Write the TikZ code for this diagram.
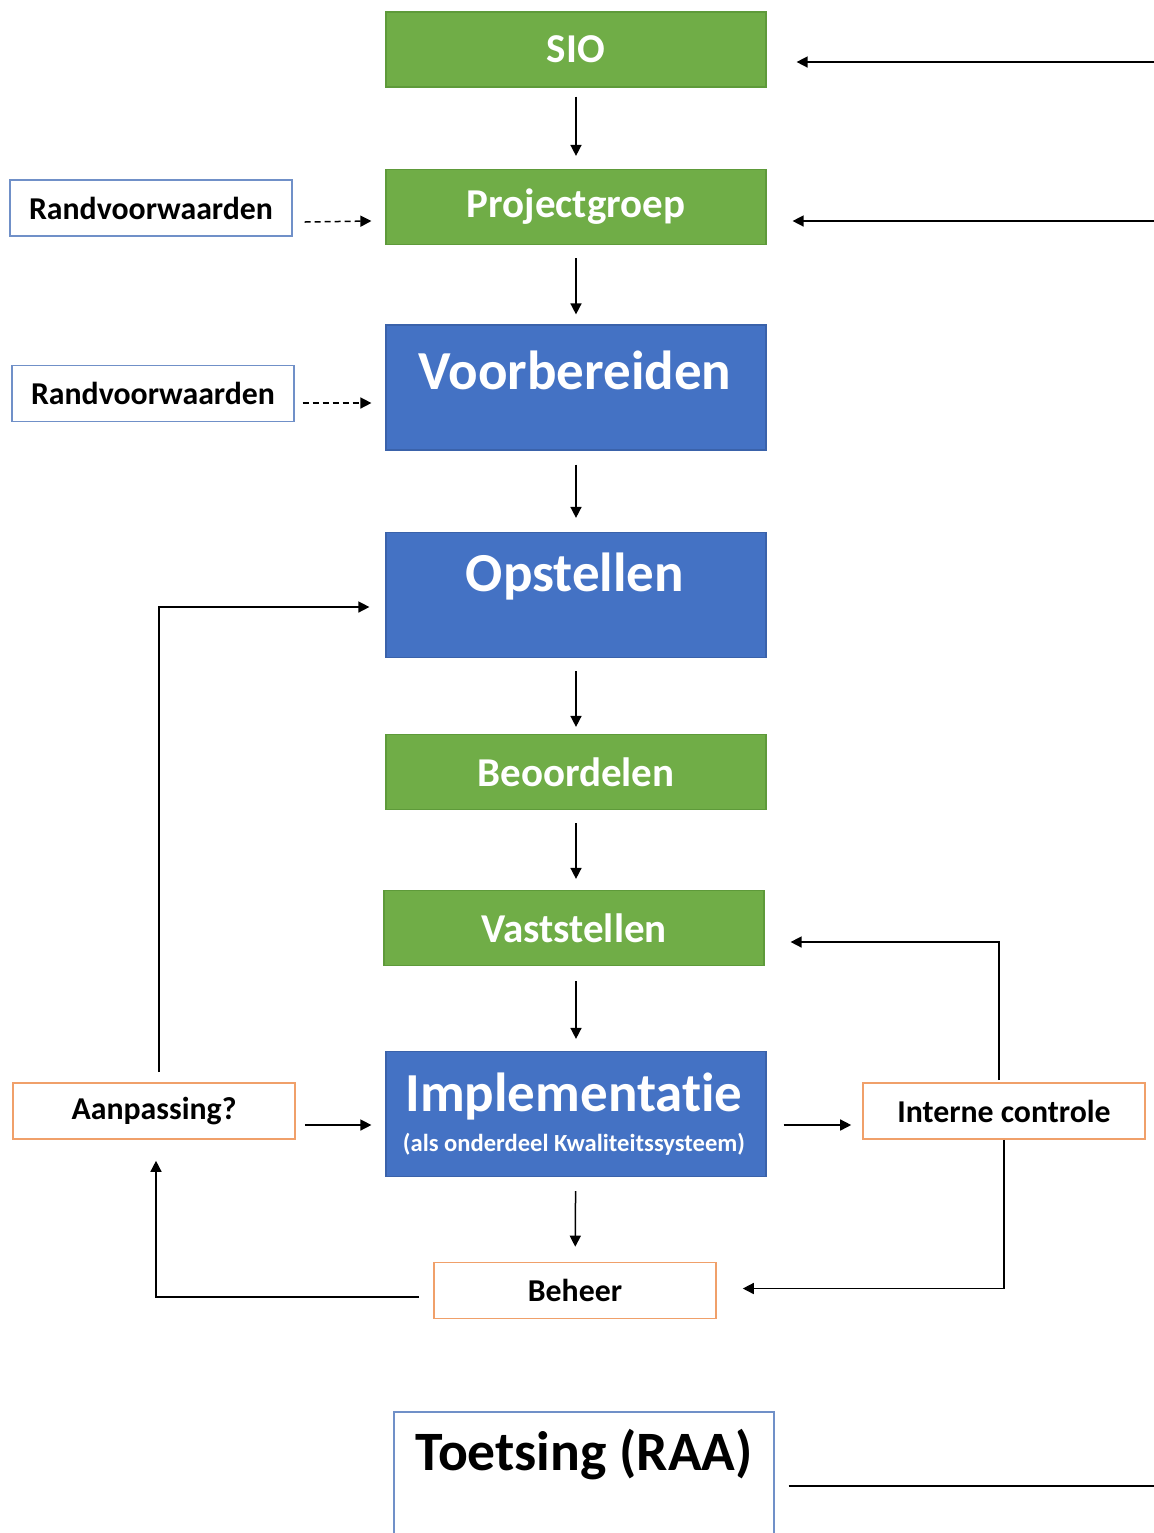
\documentclass[tikz,border=0pt]{standalone}
\usepackage{fontspec}
\setmainfont[Ligatures=NoCommon]{Carlito}
\usetikzlibrary{arrows.meta,calc}
\definecolor{cgreen}{HTML}{70AD47}
\definecolor{cgreenb}{HTML}{5E9A3A}
\definecolor{cblue}{HTML}{4472C4}
\definecolor{cblueb}{HTML}{3A62AA}
\definecolor{corange}{HTML}{F0A06A}
\definecolor{coutblue}{HTML}{7090C8}
\tikzset{
  greenbox/.style={draw=cgreenb, line width=0.6pt, fill=cgreen, minimum width=190pt, minimum height=37.5pt, inner sep=0pt, text=white, font=\bfseries\fontsize{20.5}{23}\selectfont},
  bluebox/.style={draw=cblueb, line width=0.6pt, fill=cblue, minimum width=190pt, minimum height=62.5pt, inner sep=0pt},
  bigwhite/.style={text=white, inner sep=0pt, font=\bfseries\fontsize{27.5}{30}\selectfont},
  subwhite/.style={text=white, inner sep=0pt, font=\bfseries\fontsize{12.3}{14}\selectfont},
  rvbox/.style={draw=coutblue, line width=0.7pt, fill=white, minimum width=141pt, minimum height=28pt, inner sep=0pt, font=\bfseries\fontsize{15.9}{18}\selectfont},
  orbox/.style={draw=corange, line width=0.8pt, fill=white, minimum width=141pt, minimum height=28pt, inner sep=0pt, font=\bfseries\fontsize{15.9}{18}\selectfont},
  arr/.style={line width=0.75pt, -{Triangle[length=5.5pt,width=5.5pt]}},
  darr/.style={arr, dash pattern=on 3pt off 2pt},
  vgap/.style={shorten <=7pt, shorten >=7pt},
}
\begin{document}
\begin{tikzpicture}[x=0.5pt,y=-0.5pt]
\useasboundingbox (0,0) rectangle (1154,1533);
\clip (0,0) rectangle (1154,1533);
\fill[white] (0,0) rectangle (1154,1533);

% main column
\node[greenbox] (sio) at (576,49.5) {SIO};
\node[greenbox] (proj) at (576,207) {Projectgroep};
\node[bluebox] (voor) at (576,387.5) {};
\node[bigwhite] (voortxt) at (575,370) {Voorbereiden};
\node[bluebox] (ops) at (576,595) {};
\node[bigwhite] (opstxt) at (575,577) {Opstellen};
\node[greenbox] (beo) at (576,772) {Beoordelen};
\node[greenbox] (vast) at (574,928) {Vaststellen};
\node[bluebox] (impl) at (576,1114) {};
\node[bigwhite] (impltxt) at (574,1097) {Implementatie};
\node[subwhite] (implsub) at (574,1144) {(als onderdeel Kwaliteitssysteem)};
\node[orbox] (beh) at (575,1290.5) {Beheer};

% side boxes
\node[rvbox] (rv1) at (151,208) {Randvoorwaarden};
\node[rvbox] (rv2) at (153,393.5) {Randvoorwaarden};
\node[orbox] (aan) at (154,1111) {Aanpassing?};
\node[orbox] (ic) at (1004,1111) {Interne controle};

% Toetsing
\node[draw=coutblue, line width=0.7pt, fill=white, minimum width=190pt, minimum height=66.5pt, inner sep=0pt] (toets) at (584,1478.5) {};
\node[inner sep=0pt, font=\bfseries\fontsize{27.8}{31}\selectfont] (toetstxt) at (584,1455) {Toetsing (RAA)};

% free ends at right margin
\coordinate (r1) at (1154,62);
\coordinate (r2) at (1154,221);
\coordinate (r3) at (1154,1486);

% vertical flow
\draw[arr, shorten <=4.5pt, shorten >=6.5pt] (sio) -- (proj);
\draw[arr, shorten <=6.5pt, shorten >=5pt] (proj) -- (proj |- voor.north);
\draw[arr, vgap] (voor) -- (ops);
\draw[arr, shorten <=6.5pt, shorten >=3.5pt] (ops) -- (beo);
\draw[arr, shorten <=6.5pt, shorten >=5.5pt] (beo) -- (beo |- vast.north);
\draw[arr, shorten <=7.5pt, shorten >=6pt] (beo |- vast.south) -- (impl);
\draw[arr, shorten <=7pt, shorten >=7.5pt] (impl) -- (beh);

% dashed inputs
\draw[darr] ([xshift=6pt,yshift=-7pt]rv1.east) -- ([xshift=-7pt,yshift=-7pt]proj.west);
\draw[darr] ([xshift=4pt,yshift=-4.75pt]rv2.east) -- ([xshift=-7pt,yshift=-7.75pt]voor.west);

% right inputs
\draw[arr] (r1) -- ([xshift=15pt,yshift=-6.25pt]sio.east);
\draw[arr] (r2) -- ([xshift=13pt,yshift=-7pt]proj.east);
\draw[line width=0.75pt] ([xshift=7pt,yshift=-3.75pt]toets.east) -- (r3);

% feedback loops
\draw[arr] ([xshift=2.5pt,yshift=5pt]aan.north) |- ([xshift=-8pt,yshift=-6pt]ops.west);
\draw[arr] ([xshift=4.5pt,yshift=-7pt]aan.east) -- ([xshift=-7pt,yshift=-5.5pt]impl.west);
\draw[arr] ([xshift=8.5pt,yshift=-5.5pt]impl.east) -- ([xshift=-5.5pt,yshift=-7pt]ic.west);
\draw[arr] ([xshift=-2.5pt,yshift=1pt]ic.north) |- ([xshift=13pt,yshift=-7pt]vast.east);
\draw[arr] (ic.south) |- ([xshift=13pt,yshift=1pt]beh.east);
\draw[arr] ([xshift=-7pt,yshift=-3.25pt]beh.west) -| ([xshift=1pt,yshift=-10.5pt]aan.south);
\end{tikzpicture}
\end{document}
